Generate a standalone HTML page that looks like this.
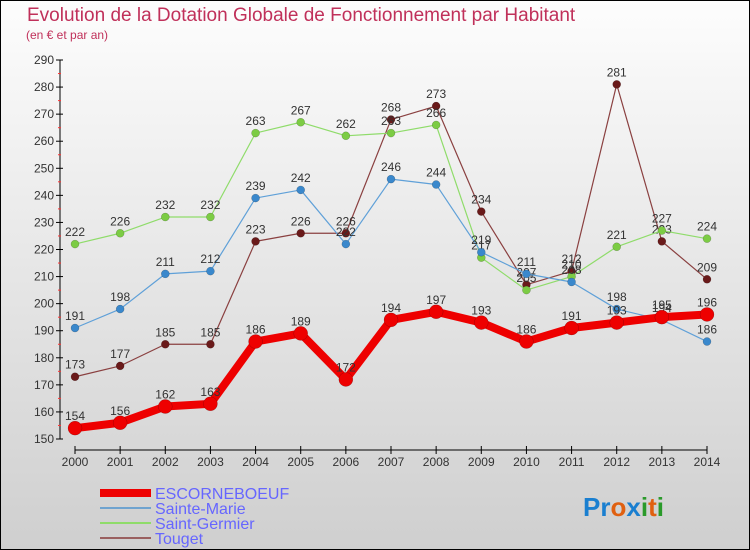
<!DOCTYPE html>
<html><head><meta charset="utf-8"><style>
body{margin:0}
svg{display:block;font-family:"Liberation Sans",sans-serif}
</style></head><body>
<svg id="c" width="750" height="550" xmlns="http://www.w3.org/2000/svg">
<defs><linearGradient id="bg" x1="0" y1="0" x2="0" y2="1"><stop offset="0" stop-color="#fdfdfd"/><stop offset="1" stop-color="#cfcfcf"/></linearGradient></defs>
<rect x="0.5" y="0.5" width="749" height="549" fill="url(#bg)" stroke="#000"/>
<text x="27" y="21" font-size="19" fill="#c0305a">Evolution de la Dotation Globale de Fonctionnement par Habitant</text>
<text x="26" y="39" font-size="12" fill="#c0305a">(en € et par an)</text>
<g id="axes"></g>
<g id="series"></g>
<g id="legend">
<line x1="100" y1="493" x2="151" y2="493" stroke="#ee0000" stroke-width="8"/>
<text x="155" y="499" font-size="16" fill="#6666ff">ESCORNEBOEUF</text>
<line x1="100" y1="508" x2="151" y2="508" stroke="#6fa3cf" stroke-width="2"/>
<text x="155" y="514" font-size="16" fill="#6666ff">Sainte-Marie</text>
<line x1="100" y1="523" x2="151" y2="523" stroke="#8fdc6a" stroke-width="2"/>
<text x="155" y="529" font-size="16" fill="#6666ff">Saint-Germier</text>
<line x1="100" y1="538" x2="151" y2="538" stroke="#9a6060" stroke-width="2"/>
<text x="155" y="544" font-size="16" fill="#6666ff">Touget</text>
</g>
<g font-size="26" font-weight="bold">
<text x="583" y="516"><tspan fill="#1a7fd0">Pr</tspan><tspan fill="#e06010">o</tspan><tspan fill="#1a7fd0">x</tspan><tspan fill="#2a9a2a">i</tspan><tspan fill="#e06010">t</tspan><tspan fill="#2a9a2a">i</tspan></text>
</g>
</svg>
<script>
const years=[2000,2001,2002,2003,2004,2005,2006,2007,2008,2009,2010,2011,2012,2013,2014];
const yTicks=[150,160,170,180,190,200,210,220,230,240,250,260,270,280,290];
const escorneboeuf=[154,156,162,163,186,189,172,194,197,193,186,191,193,195,196];
const sainteMarie=[191,198,211,212,239,242,222,246,244,219,211,208,198,194,186];
const saintGermier=[222,226,232,232,263,267,262,263,266,217,205,210,221,227,224];
const touget=[173,177,185,185,223,226,226,268,273,234,207,212,281,223,209];
const NS="http://www.w3.org/2000/svg";
const xs=i=>75+i*(707-75)/14;
const ys=v=>439-(v-150)*(439-60)/140;
function mk(t,a,p){const e=document.createElementNS(NS,t);for(const k in a)e.setAttribute(k,a[k]);p.appendChild(e);return e;}
const ax=document.getElementById('axes');
let e=mk('line',{x1:60,y1:60,x2:60,y2:439,stroke:'#000'},ax);


e=mk('line',{x1:75,y1:450,x2:707,y2:450,stroke:'#000'},ax);


yTicks.forEach(v=>{
 const y=ys(v);
 mk('line',{x1:56,y1:y,x2:63,y2:y,stroke:'#000'},ax);
 if(v<290)mk('line',{x1:58,y1:ys(v+5),x2:61,y2:ys(v+5),stroke:'#f33'},ax);
 const t=mk('text',{x:54,y:y+4,'font-size':12,fill:'#333','text-anchor':'end'},ax);t.textContent=v;
 
 
});
years.forEach((yr,i)=>{
 const x=xs(i);
 mk('line',{x1:x,y1:446,x2:x,y2:454,stroke:'#000'},ax);
 const t=mk('text',{x:x,y:466,'font-size':12,fill:'#333','text-anchor':'middle'},ax);t.textContent=yr;
 
 
});
const sg=document.getElementById('series');
function draw(vals,line,dot,w,r,name){
 const g=mk('g',{},sg);
 
 
 mk('polyline',{points:vals.map((v,i)=>xs(i)+','+ys(v)).join(' '),fill:'none',stroke:line,'stroke-width':w,'stroke-linejoin':'round'},g);
 vals.forEach((v,i)=>{
  const c=mk('circle',{cx:xs(i),cy:ys(v),r:r,fill:dot,stroke:'rgba(0,0,0,0.3)','stroke-width':0.5},g);
  
  
  const t=mk('text',{x:xs(i),y:ys(v)-8,'font-size':12,fill:'#333','text-anchor':'middle'},g);t.textContent=v;
  
  
 });
}
draw(touget,'#8a4040','#6a1a1a',1.2,4,'touget');
draw(saintGermier,'#8fdc6a','#7ccc44',1.2,4,'saint-germier');
draw(sainteMarie,'#5fa0d8','#3a88cc',1.2,4,'sainte-marie');
draw(escorneboeuf,'#ee0000','#ee0000',8,7,'escorneboeuf');
</script>
</body></html>
